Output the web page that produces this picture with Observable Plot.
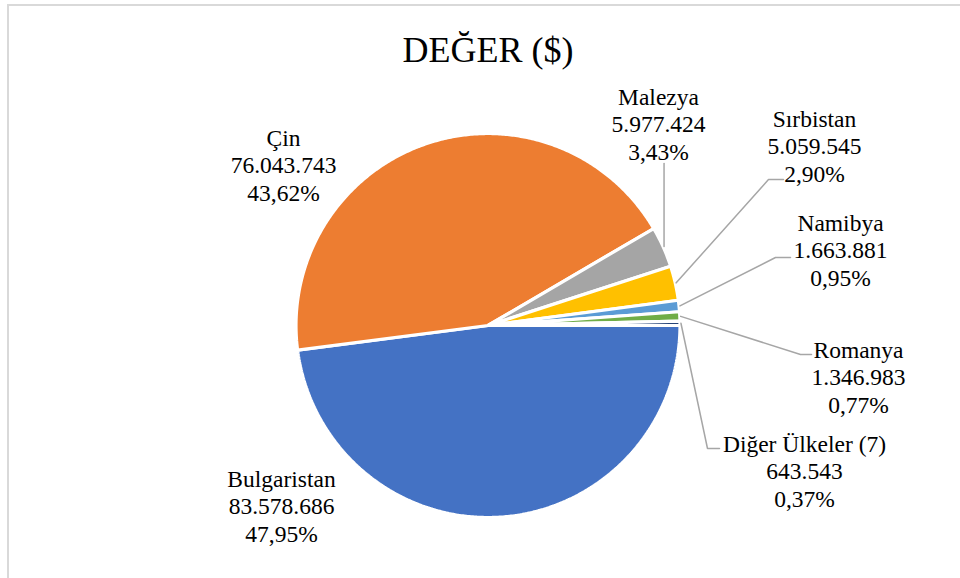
<!DOCTYPE html>
<html>
<head>
<meta charset="utf-8">
<script src="https://cdn.jsdelivr.net/npm/d3@7"></script>
<script src="https://cdn.jsdelivr.net/npm/@observablehq/plot@0.6"></script>
<style>
  html, body { margin: 0; padding: 0; background: #fff; }
  #wrap { position: relative; width: 960px; height: 578px; overflow: hidden; }
  #border { position: absolute; left: 7px; top: 4px; width: 1000px; height: 1000px;
            border-left: 2px solid #d9d9d9; border-top: 2px solid #d9d9d9; pointer-events: none; }
  svg { display: block; }
  #chart svg, #chart svg text, #chart svg tspan { font-family: "Liberation Serif", "Times New Roman", serif !important; }
</style>
</head>
<body>
<div id="wrap"><div id="chart"></div><div id="border"></div></div>
<script>
// ---- data ----
const title = "DEĞER ($)";
const categories = ["Bulgaristan", "Çin", "Malezya", "Sırbistan", "Namibya", "Romanya", "Diğer Ülkeler (7)"];
const values = [83578686, 76043743, 5977424, 5059545, 1663881, 1346983, 643543];
const colors = ["#4472C4", "#ED7D31", "#A5A5A5", "#FFC000", "#5B9BD5", "#70AD47", "#264478"];

// ---- layout (pixels) ----
const W = 960, H = 578, CX = 487.5, CY = 325, R = 192;
const labelCenters = {
  "Bulgaristan": [281, 505],
  "Çin": [283, 164],
  "Malezya": [658, 123],
  "Sırbistan": [814, 145],
  "Namibya": [840, 249],
  "Romanya": [858, 376],
  "Diğer Ülkeler (7)": [804, 470]
};
const leaderElbows = {
  "Malezya": [[null, 163]],
  "Sırbistan": [[768, 179], [783, 179]],
  "Namibya": [[775, 257], [790, 257]],
  "Romanya": [[800, 354], [811, 354]],
  "Diğer Ülkeler (7)": [[707, 448], [719, 448]]
};

const toX = px => (px - CX) / R;
const toY = py => (CY - py) / R;

const tr = d3.formatLocale({decimal: ",", thousands: ".", grouping: [3], currency: ["", ""]});
const fmtInt = tr.format(",d");
const fmtPct = tr.format(".2f");
const total = d3.sum(values);

const arcs = d3.pie().sort(null).startAngle(Math.PI / 2).endAngle(Math.PI / 2 + 2 * Math.PI)(values);

// slice polygons (unit radius, y up)
const slices = [];
arcs.forEach((a, i) => {
  const name = categories[i];
  slices.push({name, x: 0, y: 0});
  const n = Math.max(2, Math.ceil((a.endAngle - a.startAngle) / (Math.PI / 360)));
  for (let k = 0; k <= n; k++) {
    const t = a.startAngle + (a.endAngle - a.startAngle) * k / n;
    slices.push({name, x: Math.sin(t), y: Math.cos(t)});
  }
});

// labels
const labels = categories.map((name, i) => ({
  name,
  x: toX(labelCenters[name][0]),
  y: toY(labelCenters[name][1]),
  text: `${name}\n${fmtInt(values[i])}\n${fmtPct(values[i] / total * 100)}%`
}));

// leader lines
const leaders = [];
arcs.forEach((a, i) => {
  const name = categories[i];
  if (!leaderElbows[name]) return;
  const mid = (a.startAngle + a.endAngle) / 2;
  const sx = Math.sin(mid) * 1.005, sy = Math.cos(mid) * 1.005;
  leaders.push({name, x: sx, y: sy});
  for (const [px, py] of leaderElbows[name]) {
    leaders.push({name, x: px == null ? sx : toX(px), y: toY(py)});
  }
});

const font = "Liberation Serif";

const chart = Plot.plot({
  width: W,
  height: H,
  margin: 0,
  x: {domain: [toX(0), toX(W)], axis: null},
  y: {domain: [toY(H), toY(0)], axis: null},
  color: {domain: categories, range: colors},
  style: {fontFamily: font, background: "white"},
  marks: [
    Plot.line(slices, {x: "x", y: "y", z: "name", fill: "name", stroke: "white", strokeWidth: 3.2,
      curve: "linear-closed", strokeLinejoin: "miter"}),
    Plot.line(leaders, {x: "x", y: "y", z: "name", stroke: "#a6a6a6", strokeWidth: 1.5, strokeLinejoin: "miter"}),
    Plot.text(labels, {x: "x", y: "y", text: "text", fontSize: 23.5, lineHeight: 1.17, fill: "#000",
      fontFamily: font}),
    Plot.text([title], {x: () => 0, y: () => toY(50), text: d => d, fontSize: 36, fill: "#000", fontFamily: font})
  ]
});
document.getElementById("chart").appendChild(chart);
</script>
</body>
</html>
